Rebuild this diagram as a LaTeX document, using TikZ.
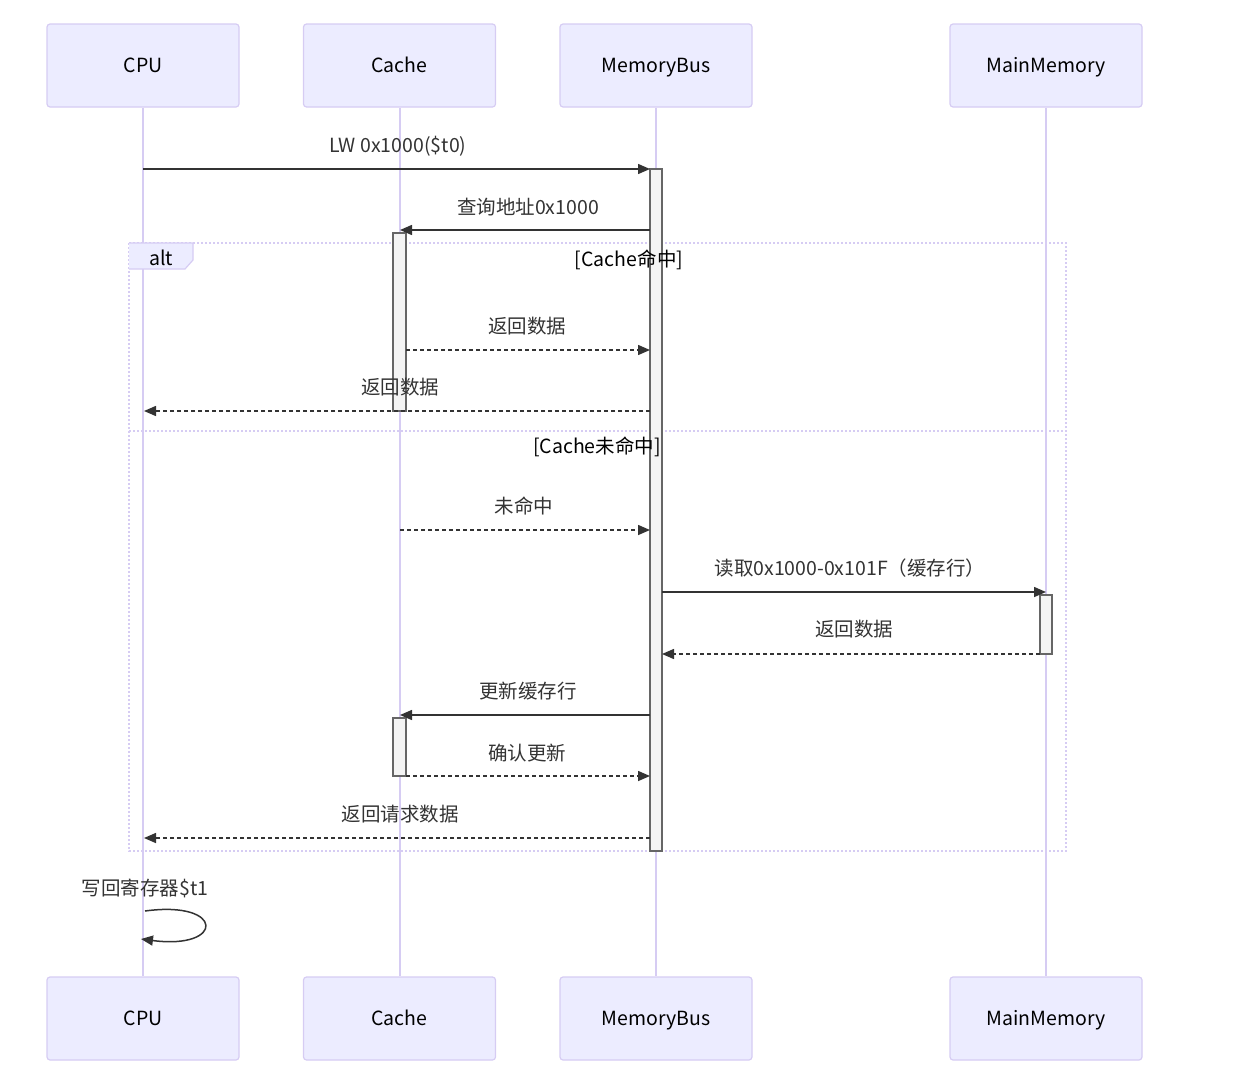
\documentclass[tikz,border=0pt]{standalone}
\usepackage{fontspec}
\setmainfont{Noto Sans CJK SC}
\usetikzlibrary{arrows.meta}
\definecolor{actfill}{HTML}{ECECFF}
\definecolor{actline}{HTML}{D6CCF3}
\definecolor{msgc}{HTML}{333333}
\definecolor{actvfill}{HTML}{F4F4F4}
\definecolor{actvline}{HTML}{666666}
\tikzset{
  actor/.style={rectangle, rounded corners=3pt, fill=actfill, draw=actline, line width=1.2pt,
    minimum width=192pt, minimum height=83pt, font=\fontsize{19.5}{23}\selectfont, text=black,
    text height=17pt, text depth=3pt},
  lifeline/.style={draw=actline, line width=2pt},
  actv/.style={rectangle, fill=actvfill, draw=actvline, line width=1.2pt, minimum width=12pt, inner sep=0pt},
  msgsolid/.style={draw=msgc, line width=1.5pt, -{Triangle[length=12pt,width=10pt]}},
  msgdash/.style={draw=msgc, line width=1.5pt, dash pattern=on 4pt off 3pt, -{Triangle[length=12pt,width=10pt]}},
  lbl/.style={font=\fontsize{19.5}{23}\selectfont, text=msgc, inner sep=0pt},
  frameline/.style={draw=actline, line width=1.8pt, dash pattern=on 2pt off 2pt},
}
\begin{document}
\begin{tikzpicture}[x=1pt,y=-1pt]
\useasboundingbox (0,0) rectangle (1243,1071);
% actors and lifelines
\node[actor] (cpuT) at (143,65.5) {CPU};
\node[actor] (cacheT) at (399.5,65.5) {Cache};
\node[actor] (busT) at (656,65.5) {MemoryBus};
\node[actor] (memT) at (1046,65.5) {MainMemory};
\node[actor] (cpuB) at (143,1018.5) {CPU};
\node[actor] (cacheB) at (399.5,1018.5) {Cache};
\node[actor] (busB) at (656,1018.5) {MemoryBus};
\node[actor] (memB) at (1046,1018.5) {MainMemory};
\draw[lifeline] (cpuT.south) -- (cpuB.north);
\draw[lifeline] (cacheT.south) -- (cacheB.north);
\draw[lifeline] (busT.south) -- (busB.north);
\draw[lifeline] (memT.south) -- (memB.north);
% alt frame
\draw[frameline] (129,243) rectangle (1066,851);
\draw[frameline] (129,431) -- (1066,431);
\fill[actfill] (129,243) -- (193,243) -- (193,260) -- (185,269) -- (129,269) -- cycle;
\draw[actline, line width=1.2pt] (129,243) -- (193,243) -- (193,260) -- (185,269) -- (129,269);
\node[lbl, text=black] (altlbl) at (161,258) {alt};
% activations
\node[actv, minimum height=682pt] (busA) at (656,510) {};
\node[actv, minimum height=178pt, minimum width=13pt] (cacheA1) at (399.5,322) {};
\node[actv, minimum height=58pt, minimum width=13pt] (cacheA2) at (399.5,747) {};
\node[actv, minimum height=59pt] (memA) at (1046,624.5) {};
\node[lbl, text=black] (cond1) at (629,260) {[Cache命中]};
\node[lbl, text=black] (cond2) at (597,447) {[Cache未命中]};
% endpoints
\coordinate (m1s) at (143,169);  \coordinate (m1e) at (650,169);
\coordinate (m2s) at (650,230);  \coordinate (m2e) at (400,230);
\coordinate (m3s) at (406,350);  \coordinate (m3e) at (650,350);
\coordinate (m4s) at (650,411);  \coordinate (m4e) at (144,411);
\coordinate (m5s) at (400,530);  \coordinate (m5e) at (650,530);
\coordinate (m6s) at (662,592);  \coordinate (m6e) at (1046,592);
\coordinate (m7s) at (1040,654); \coordinate (m7e) at (662,654);
\coordinate (m8s) at (650,715);  \coordinate (m8e) at (400,715);
\coordinate (m9s) at (406,776);  \coordinate (m9e) at (650,776);
\coordinate (m10s) at (650,838); \coordinate (m10e) at (144,838);
\coordinate (selfs) at (145,911); \coordinate (selfe) at (141,939);
% messages
\draw[msgsolid] (m1s) -- (m1e);
\node[lbl] (l1) at (398,146) {LW 0x1000(\$t0)};
\draw[msgsolid] (m2s) -- (m2e);
\node[lbl] (l2) at (528,207) {查询地址0x1000};
\draw[msgdash] (m3s) -- (m3e);
\node[lbl] (l3) at (527,326) {返回数据};
\draw[msgdash] (m4s) -- (m4e);
\node[lbl] (l4) at (400,387) {返回数据};
\draw[msgdash] (m5s) -- (m5e);
\node[lbl] (l5) at (524,506) {未命中};
\draw[msgsolid] (m6s) -- (m6e);
\node[lbl] (l6) at (850,568) {读取0x1000-0x101F（缓存行）};
\draw[msgdash] (m7s) -- (m7e);
\node[lbl] (l7) at (854,629) {返回数据};
\draw[msgsolid] (m8s) -- (m8e);
\node[lbl] (l8) at (528,691) {更新缓存行};
\draw[msgdash] (m9s) -- (m9e);
\node[lbl] (l9) at (527,753) {确认更新};
\draw[msgdash] (m10s) -- (m10e);
\node[lbl] (l10) at (400,814) {返回请求数据};
\draw[msgsolid] (selfs) .. controls (225,900) and (225,950) .. (selfe);
\node[lbl] (l11) at (145,888) {写回寄存器\$t1};
\end{tikzpicture}
\end{document}
